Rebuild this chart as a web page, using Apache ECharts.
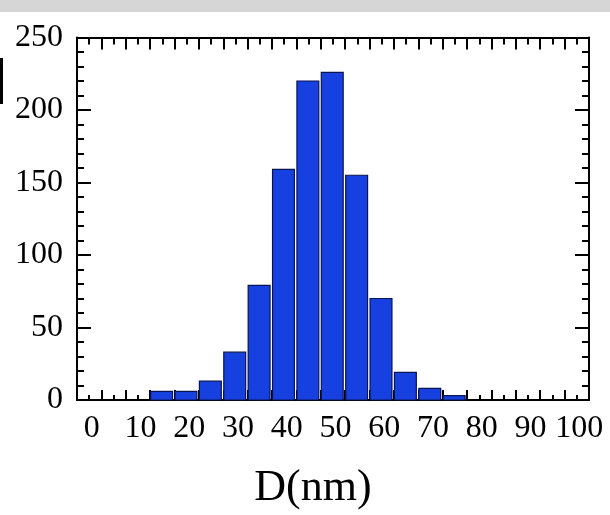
<!DOCTYPE html>
<html>
<head>
<meta charset="utf-8">
<script src="https://cdn.jsdelivr.net/npm/echarts@6/dist/echarts.min.js"></script>
<style>
html,body{margin:0;padding:0;background:#fff;}
#chart{width:610px;height:515px;}
</style>
</head>
<body>
<div id="chart"></div>
<script>
// Histogram data: bin start (nm), bin width, counts
var binStarts = [12, 17, 22, 27, 32, 37, 42, 47, 52, 57, 62, 67, 72];
var binWidth = 5;
var counts = [6, 6, 13, 33, 79, 159, 220, 226, 155, 70, 19, 8, 3];
var xLabelValues = [0, 10, 20, 30, 40, 50, 60, 70, 80, 90, 100];
var xMajorTicks = [-3, 2, 7, 12, 17, 22, 27, 32, 37, 42, 47, 52, 57, 62, 67, 72, 77, 82, 87, 92, 97, 102];
var xMinorTicks = [-0.5, 4.5, 9.5, 14.5, 19.5, 24.5, 29.5, 34.5, 39.5, 44.5, 49.5, 54.5, 59.5, 64.5, 69.5, 74.5, 79.5, 84.5, 89.5, 94.5, 99.5];
var xTitle = 'D(nm)';

var FONT = '"Liberation Serif", "Times New Roman", serif';

var histData = binStarts.map(function (s, i) { return [s, s + binWidth, counts[i]]; });

function xAxisCfg(pos, ticks, len, showLine, labels) {
  var a = {
    type: 'value', position: pos, min: -3, max: 102,
    gridIndex: 0,
    splitLine: { show: false },
    axisLine: { show: showLine, onZero: false, lineStyle: { color: '#000', width: 2 } },
    axisTick: { show: true, inside: true, length: len, customValues: ticks, lineStyle: { color: '#000', width: 2 } },
    axisLabel: { show: false }
  };
  if (labels) {
    a.axisLabel = { show: true, customValues: labels, margin: 13, color: '#000', fontSize: 32, fontFamily: FONT };
    a.name = xTitle;
    a.nameLocation = 'middle';
    a.nameGap = 66;
    a.nameTextStyle = { color: '#000', fontSize: 44, fontFamily: FONT, padding: [0, 40, 0, 0] };
  }
  return a;
}

function yAxisCfg(pos, labels, len) {
  return {
    type: 'value', position: pos, min: 0, max: 250, interval: 50,
    splitLine: { show: false },
    axisLine: { show: true, onZero: false, lineStyle: { color: '#000', width: 2 } },
    axisTick: { show: true, inside: true, length: len, lineStyle: { color: '#000', width: 2 } },
    minorTick: { show: true, splitNumber: 5, length: 7, lineStyle: { color: '#000', width: 2 } },
    axisLabel: { show: labels, margin: 14, color: '#000', fontSize: 32, fontFamily: FONT, padding: [0, 0, 6, 0] }
  };
}

var chart = echarts.init(document.getElementById('chart'), null, { renderer: 'canvas' });
chart.setOption({
  backgroundColor: '#fff',
  animation: false,
  grid: { left: 77, right: 21, top: 37.5, bottom: 112.5 },
  xAxis: [
    xAxisCfg('bottom', xMajorTicks, 10, true, xLabelValues),
    xAxisCfg('bottom', xMinorTicks, 5, false, null),
    xAxisCfg('top', xMajorTicks, 12, true, null),
    xAxisCfg('top', xMinorTicks, 7, false, null)
  ],
  yAxis: [
    yAxisCfg('left', true, 14),
    yAxisCfg('right', false, 14)
  ],
  graphic: [
    { type: 'rect', shape: { x: 0, y: 0, width: 610, height: 12 }, style: { fill: '#d6d6d6' }, z: 100 },
    { type: 'rect', shape: { x: 0, y: 58, width: 3, height: 46 }, style: { fill: '#000' }, z: 100 }
  ],
  series: [{
    type: 'custom',
    xAxisIndex: 0, yAxisIndex: 0,
    data: histData,
    encode: { x: [0, 1], y: 2 },
    renderItem: function (params, api) {
      var p0 = api.coord([api.value(0), api.value(2)]);
      var p1 = api.coord([api.value(1), 0]);
      return {
        type: 'rect',
        shape: { x: p0[0] + 0.5, y: p0[1], width: p1[0] - p0[0] - 2.5, height: p1[1] - p0[1] },
        style: { fill: '#1740e0', stroke: '#0a1450', lineWidth: 1.2 }
      };
    },
    z: 1
  }]
});
</script>
</body>
</html>
